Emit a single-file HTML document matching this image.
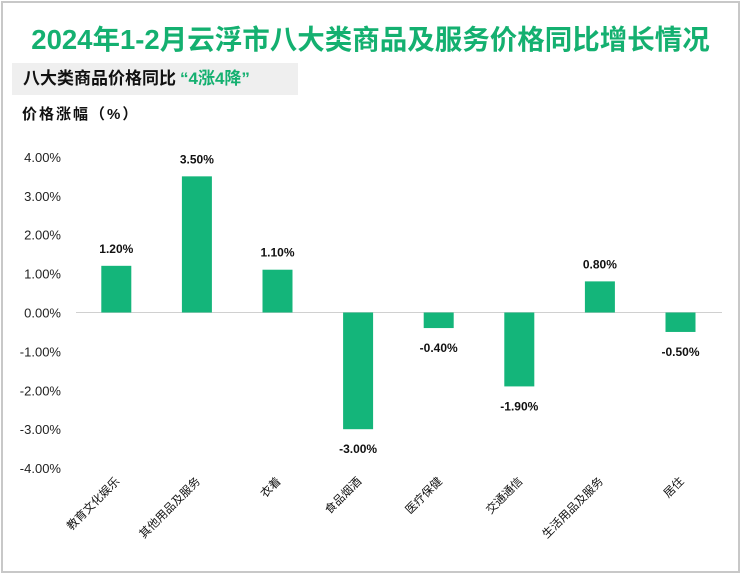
<!DOCTYPE html>
<html><head><meta charset="utf-8"><style>
body{margin:0;width:741px;height:574px;background:#fff;overflow:hidden;font-family:"Liberation Sans","Noto Sans CJK SC",sans-serif}
#frame{position:absolute;left:1px;top:1px;width:735px;height:568px;border:2px solid #c8c8c8}
#title{position:absolute;left:0;width:741px;top:17px;text-align:center;font-size:27.5px;font-weight:bold;color:#14b070}
#sub{position:absolute;left:12px;top:63px;width:286px;height:32px;background:#efefef;font-size:17px;font-weight:bold;line-height:32px;padding-left:11px;box-sizing:border-box;color:#111}
#sub span{color:#14b070;margin-left:4px}
#unit{position:absolute;left:22px;top:103px;font-size:15px;font-weight:bold;letter-spacing:2px;color:#111}
</style></head><body>
<div id="frame"></div>
<div id="title">2024年1-2月云浮市八大类商品及服务价格同比增长情况</div>
<div id="sub">八大类商品价格同比<span>“4涨4降”</span></div>
<div id="unit">价格涨幅（%）</div>
<svg id="chart" width="741" height="574" style="position:absolute;left:0;top:0"></svg>
<script>
const categories=["教育文化娱乐","其他用品及服务","衣着","食品烟酒","医疗保健","交通通信","生活用品及服务","居住"];
const values=[1.2,3.5,1.1,-3.0,-0.4,-1.9,0.8,-0.5];
const ticks=[4,3,2,1,0,-1,-2,-3,-4];
const svg=document.getElementById('chart');
const NS='http://www.w3.org/2000/svg';
const y0=312.5,ppu=38.9,xL=76,step=80.6;
const y=v=>y0-v*ppu;
const x=i=>xL+step*(i+0.5);
function mk(t,a){const e=document.createElementNS(NS,t);for(const k in a)e.setAttribute(k,a[k]);svg.appendChild(e);return e;}
ticks.forEach(t=>{
 const e=mk('text',{x:61,y:y(t)+5,'text-anchor':'end','font-size':13,fill:'#222'});
 e.textContent=t.toFixed(2)+'%';
 
 
});
const ax=mk('line',{x1:xL,x2:722,y1:y0,y2:y0,stroke:'#d0d0d0','stroke-width':1});


values.forEach((v,i)=>{
 const cx=x(i),w=30;
 const r=mk('rect',{x:cx-w/2,y:Math.min(y(v),y0),width:w,height:Math.abs(y(v)-y0),fill:'#14b57a'});
 
 
 const l=mk('text',{x:cx,y:v>=0?y(v)-13:y(v)+24,'text-anchor':'middle','font-size':12,'font-weight':'bold',fill:'#111'});
 l.textContent=v.toFixed(2)+'%';
 
 
 const c=mk('text',{x:0,y:0,'text-anchor':'end','font-size':11.5,fill:'#111',transform:`translate(${cx+4},${482}) rotate(-45)`});
 c.textContent=categories[i];
 
 
});
</script>
</body></html>
